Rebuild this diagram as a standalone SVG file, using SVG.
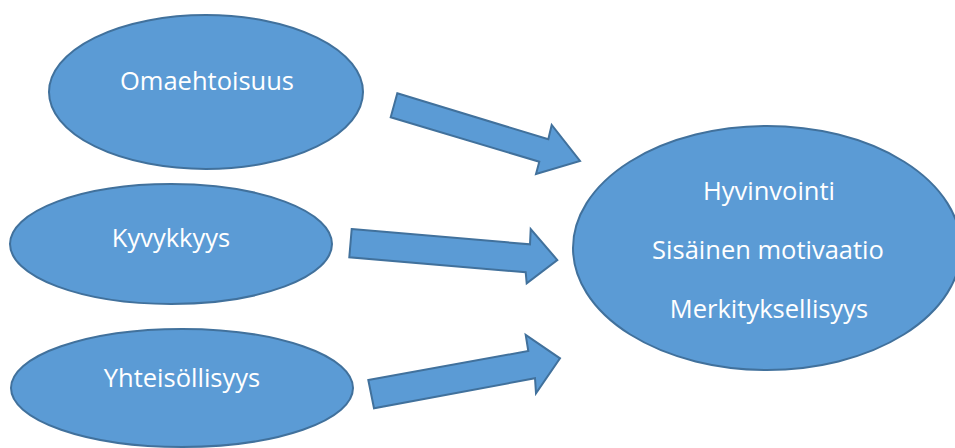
<svg xmlns="http://www.w3.org/2000/svg" width="955" height="448" viewBox="0 0 955 448">
<style>
.shape{fill:#5B9BD5;stroke:#41719C;stroke-width:2;stroke-linejoin:miter}
.lbl{font-family:"Open Sans","Noto Sans",sans-serif;font-size:25.5px;fill:#FFFFFF;text-anchor:middle}
</style>
<rect width="955" height="448" fill="#FFFFFF"/>
<g id="connectors">
<polygon class="shape" points="397.3,93.3 548.3,139.3 551.7,125 580,161 536,174 539.3,161.7 390.7,117.3"/>
<polygon class="shape" points="351.7,229 530,244.3 530.7,229 557.3,260 526.7,283.3 525.7,272.3 349.3,257.3"/>
<polygon class="shape" points="368.3,380 528.3,351 525.7,335 560,358.3 536,393.3 535,378.3 374,408.3"/>
</g>
<g id="omaehtoisuus">
<ellipse class="shape" cx="206" cy="92" rx="157" ry="77"/>
<text class="lbl" x="207" y="90">Omaehtoisuus</text>
</g>
<g id="kyvykkyys">
<ellipse class="shape" cx="171" cy="244" rx="161" ry="60"/>
<text class="lbl" x="171" y="247">Kyvykkyys</text>
</g>
<g id="yhteisollisyys">
<ellipse class="shape" cx="182" cy="388" rx="171" ry="59"/>
<text class="lbl" x="182" y="387">Yhteisöllisyys</text>
</g>
<g id="tulos">
<ellipse class="shape" cx="767" cy="248" rx="194" ry="122"/>
<text class="lbl" x="769" y="200">Hyvinvointi</text>
<text class="lbl" x="768" y="259">Sisäinen motivaatio</text>
<text class="lbl" x="769" y="318">Merkityksellisyys</text>
</g>
</svg>
